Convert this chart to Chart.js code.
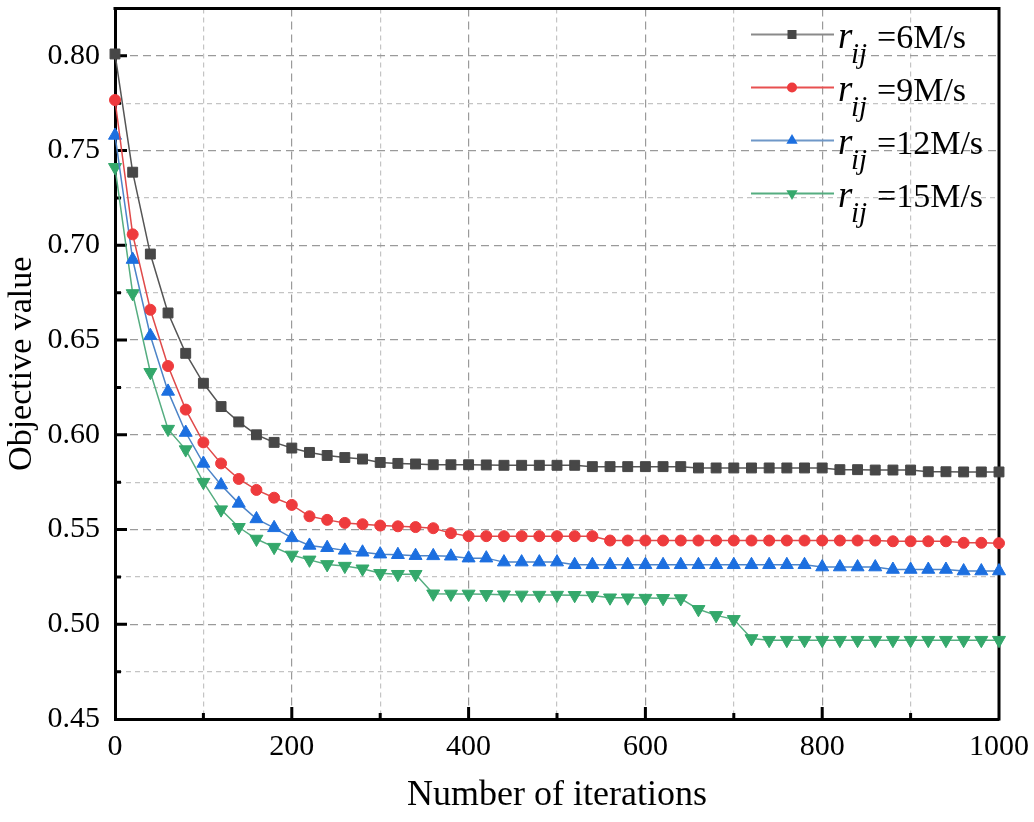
<!DOCTYPE html>
<html>
<head>
<meta charset="utf-8">
<script src="https://cdn.jsdelivr.net/npm/chart.js@4.4.0/dist/chart.umd.min.js"></script>
<style>
html, body { margin: 0; padding: 0; background: #fff; }
#wrap { width: 1034px; height: 822px; }
</style>
</head>
<body>
<div id="wrap"><canvas id="chart" width="1034" height="822"></canvas></div>
<script>
// iteration counts on the x axis
const iterations = [0, 20, 40, 60, 80, 100, 120, 140, 160, 180,
    200, 220, 240, 260, 280, 300, 320, 340, 360, 380,
    400, 420, 440, 460, 480, 500, 520, 540, 560, 580,
    600, 620, 640, 660, 680, 700, 720, 740, 760, 780,
    800, 820, 840, 860, 880, 900, 920, 940, 960, 980, 1000];

// objective value for each transmission rate
const rate6 = [0.801, 0.7386, 0.6954, 0.6643, 0.6430, 0.6272, 0.6149, 0.6068, 0.6000, 0.5960,
    0.5930, 0.5907, 0.5891, 0.5880, 0.5872, 0.5854, 0.5849, 0.5846, 0.5842, 0.5842,
    0.5842, 0.5841, 0.5839, 0.5839, 0.5839, 0.5839, 0.5839, 0.5832, 0.5832, 0.5832,
    0.5832, 0.5832, 0.5832, 0.5825, 0.5825, 0.5825, 0.5825, 0.5825, 0.5825, 0.5825,
    0.5825, 0.5816, 0.5816, 0.5814, 0.5814, 0.5814, 0.5805, 0.5805, 0.5804, 0.5804, 0.5804];
const rate9 = [0.7767, 0.7058, 0.6660, 0.6363, 0.6133, 0.5960, 0.5849, 0.5767, 0.5709, 0.5668,
    0.5630, 0.5570, 0.5551, 0.5535, 0.5528, 0.5521, 0.5517, 0.5513, 0.5507, 0.5481,
    0.5465, 0.5465, 0.5465, 0.5465, 0.5465, 0.5465, 0.5465, 0.5465, 0.5442, 0.5442,
    0.5442, 0.5442, 0.5442, 0.5442, 0.5442, 0.5442, 0.5442, 0.5442, 0.5442, 0.5442,
    0.5442, 0.5442, 0.5442, 0.5442, 0.5438, 0.5438, 0.5438, 0.5438, 0.5430, 0.5430, 0.5428];
const rate12 = [0.7580, 0.6925, 0.6523, 0.6229, 0.6012, 0.5849, 0.5735, 0.5638, 0.5556, 0.5509,
    0.5456, 0.5416, 0.5404, 0.5390, 0.5380, 0.5370, 0.5367, 0.5362, 0.5361, 0.5359,
    0.5349, 0.5349, 0.5328, 0.5328, 0.5328, 0.5328, 0.5314, 0.5314, 0.5314, 0.5314,
    0.5314, 0.5314, 0.5314, 0.5314, 0.5314, 0.5314, 0.5314, 0.5314, 0.5314, 0.5314,
    0.5302, 0.5302, 0.5302, 0.5302, 0.5289, 0.5289, 0.5289, 0.5289, 0.5281, 0.5281, 0.5281];
const rate15 = [0.7412, 0.6746, 0.6330, 0.6030, 0.5922, 0.5750, 0.5605, 0.5512, 0.5450, 0.5407,
    0.5366, 0.5340, 0.5316, 0.5307, 0.5293, 0.5269, 0.5264, 0.5264, 0.5161, 0.5160,
    0.5160, 0.5158, 0.5156, 0.5155, 0.5154, 0.5154, 0.5153, 0.5152, 0.5140, 0.5140,
    0.5138, 0.5137, 0.5136, 0.5079, 0.5047, 0.5026, 0.4925, 0.4916, 0.4916, 0.4916,
    0.4916, 0.4916, 0.4916, 0.4916, 0.4916, 0.4916, 0.4916, 0.4916, 0.4916, 0.4916, 0.4916];

const seriesLabels = ["6M/s", "9M/s", "12M/s", "15M/s"];
const xTickLabels = [0, 200, 400, 600, 800, 1000];
const yTickLabels = [0.45, 0.50, 0.55, 0.60, 0.65, 0.70, 0.75, 0.80];

const SERIF = "'Liberation Serif', 'Times New Roman', serif";

function toPoints(values) {
    return values.map((v, i) => ({ x: iterations[i], y: v }));
}

function isMajorY(v) {
    return yTickLabels.some(t => Math.abs(t - v) < 1e-6);
}

// top/right frame and inward tick marks
const frameAndTicks = {
    id: "frameAndTicks",
    beforeDatasetsDraw(chart) {
        const { ctx, chartArea: a, scales: { x, y } } = chart;
        ctx.save();
        ctx.strokeStyle = "#000";
        ctx.lineWidth = 3;
        ctx.lineCap = "square";
        ctx.beginPath();
        ctx.moveTo(a.left, a.top);
        ctx.lineTo(a.right, a.top);
        ctx.lineTo(a.right, a.bottom);
        ctx.stroke();

        ctx.lineCap = "butt";
        ctx.beginPath();
        x.ticks.forEach(t => {
            if (t.value <= x.min || t.value >= x.max) return;
            const px = x.getPixelForValue(t.value);
            const len = xTickLabels.includes(t.value) ? 12 : 6;
            ctx.moveTo(px, a.bottom);
            ctx.lineTo(px, a.bottom - len);
        });
        y.ticks.forEach(t => {
            if (t.value <= y.min + 1e-6 || t.value >= y.max - 1e-6) return;
            const py = y.getPixelForValue(t.value);
            const len = isMajorY(t.value) ? 12 : 6;
            ctx.moveTo(a.left, py);
            ctx.lineTo(a.left + len, py);
        });
        ctx.stroke();
        ctx.restore();
    }
};

function drawMarker(ctx, style, cx, cy, r, rotation) {
    ctx.beginPath();
    if (style === "rect") {
        ctx.rect(cx - r, cy - r, 2 * r, 2 * r);
    } else if (style === "circle") {
        ctx.arc(cx, cy, r, 0, Math.PI * 2);
    } else {
        const dir = rotation === 180 ? -1 : 1;
        ctx.moveTo(cx, cy - dir * r);
        ctx.lineTo(cx + r * 0.87, cy + dir * r * 0.5);
        ctx.lineTo(cx - r * 0.87, cy + dir * r * 0.5);
        ctx.closePath();
    }
    ctx.fill();
}

// legend with italic r and subscript ij
const rijLegend = {
    id: "rijLegend",
    afterDraw(chart) {
        const { ctx, chartArea: a } = chart;
        chart.data.datasets.forEach((ds, i) => {
            const cy = a.top + 26 + i * 53;
            const x0 = a.right - 248;
            ctx.save();
            ctx.strokeStyle = ds.legendLine;
            ctx.lineWidth = 2;
            ctx.beginPath();
            ctx.moveTo(x0, cy);
            ctx.lineTo(x0 + 83, cy);
            ctx.stroke();
            ctx.fillStyle = ds.pointBackgroundColor;
            drawMarker(ctx, ds.pointStyle, x0 + 41, cy, ds.legendRadius, ds.rotation);

            ctx.fillStyle = "#000";
            ctx.textBaseline = "alphabetic";
            const tx = x0 + 87;
            const base = cy + 13;
            ctx.font = "italic 37px " + SERIF;
            ctx.fillText("r", tx, base);
            ctx.font = "italic 29px " + SERIF;
            ctx.fillText("ij", tx + 13, base + 15);
            ctx.font = "34px " + SERIF;
            ctx.fillText("=" + ds.label, tx + 39, base);
            ctx.restore();
        });
    }
};

function makeSet(label, values, marker, line, legendLine, style, radius, legendRadius, rotation) {
    return {
        label: label,
        data: toPoints(values),
        borderColor: line,
        borderWidth: 1.5,
        pointStyle: style,
        pointRadius: radius,
        pointRotation: rotation,
        rotation: rotation,
        pointBackgroundColor: marker,
        pointBorderColor: marker,
        pointBorderWidth: 1,
        legendLine: legendLine,
        legendRadius: legendRadius,
        tension: 0,
        clip: false
    };
}

new Chart(document.getElementById("chart"), {
    type: "line",
    data: {
        datasets: [
            makeSet(seriesLabels[0], rate6, "#474747", "#555555", "#8a8a8a", "rect", 7, 4.5, 0),
            makeSet(seriesLabels[1], rate9, "#ee3b3d", "#e04a4a", "#e85050", "circle", 5.5, 5, 0),
            makeSet(seriesLabels[2], rate12, "#1c6fe0", "#4d84c8", "#6f98c8", "triangle", 7.5, 6.5, 0),
            makeSet(seriesLabels[3], rate15, "#34a86b", "#55ad80", "#55ad80", "triangle", 7.5, 6.5, 180)
        ]
    },
    options: {
        responsive: false,
        animation: false,
        events: [],
        layout: { padding: { top: 7, right: 35, left: 0, bottom: 0 } },
        plugins: {
            legend: { display: false },
            tooltip: { enabled: false }
        },
        scales: {
            x: {
                type: "linear",
                min: 0,
                max: 1000,
                afterFit(scale) {
                    scale.height = 103;
                    scale.paddingLeft = 0;
                    scale.paddingRight = 0;
                },
                ticks: {
                    stepSize: 100,
                    autoSkip: false,
                    maxRotation: 0,
                    padding: 10,
                    color: "#000",
                    font: { family: SERIF, size: 30 },
                    callback: v => (xTickLabels.includes(v) ? String(v) : "")
                },
                grid: {
                    drawTicks: false,
                    lineWidth: 1.2,
                    color: ctx => (xTickLabels.includes(ctx.tick && ctx.tick.value) ? "#9a9a9a" : "#c4c4c4")
                },
                border: {
                    display: true,
                    color: "#000",
                    width: 3,
                    dash: ctx => (xTickLabels.includes(ctx.tick && ctx.tick.value) ? [8, 5] : [5, 4])
                },
                title: {
                    display: true,
                    text: "Number of iterations",
                    color: "#000",
                    font: { family: SERIF, size: 36 },
                    padding: { top: 0, bottom: 5 }
                }
            },
            y: {
                min: 0.45,
                max: 0.825,
                afterFit(scale) {
                    scale.width = 115;
                    scale.paddingTop = 0;
                    scale.paddingBottom = 0;
                },
                ticks: {
                    stepSize: 0.025,
                    autoSkip: false,
                    padding: 15,
                    color: "#000",
                    font: { family: SERIF, size: 30 },
                    callback: v => (isMajorY(v) ? v.toFixed(2) : "")
                },
                grid: {
                    drawTicks: false,
                    lineWidth: 1.2,
                    color: ctx => (ctx.tick && isMajorY(ctx.tick.value) ? "#9a9a9a" : "#c4c4c4")
                },
                border: {
                    display: true,
                    color: "#000",
                    width: 3,
                    dash: ctx => (ctx.tick && isMajorY(ctx.tick.value) ? [8, 5] : [5, 4])
                },
                title: {
                    display: true,
                    text: "Objective value",
                    color: "#000",
                    font: { family: SERIF, size: 34 },
                    padding: { top: 2, bottom: 0 }
                }
            }
        }
    },
    plugins: [frameAndTicks, rijLegend]
});
</script>
</body>
</html>
